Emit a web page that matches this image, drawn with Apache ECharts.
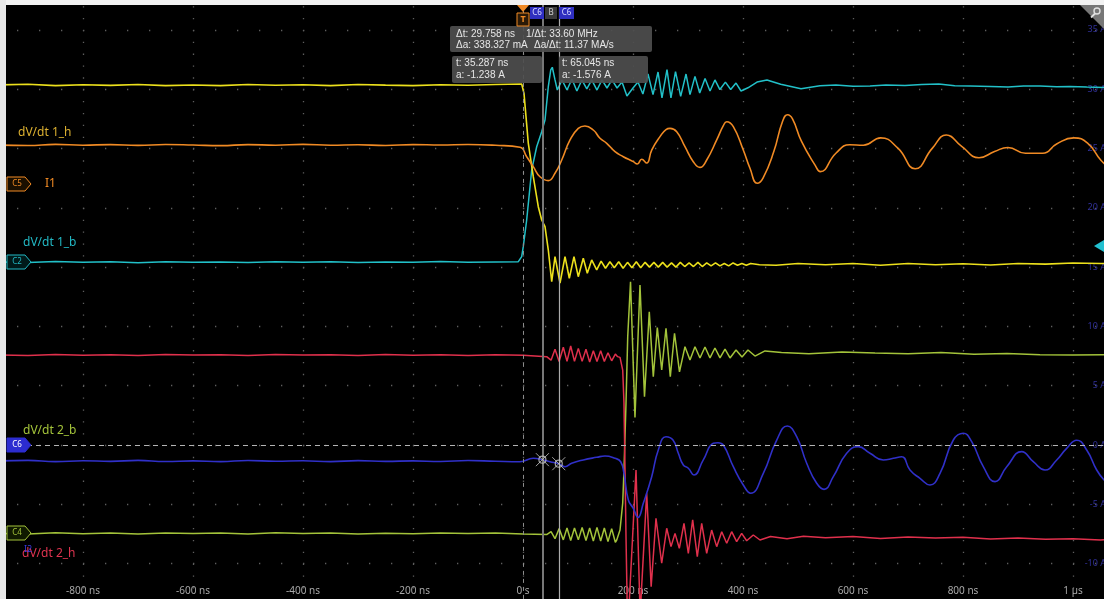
<!DOCTYPE html>
<html><head><meta charset="utf-8">
<script src="https://cdn.jsdelivr.net/npm/echarts/dist/echarts.min.js"></script>
<style>html,body{margin:0;padding:0;background:#000;overflow:hidden}#c{width:1104px;height:599px}</style>
</head><body><div id="c"></div>
<script>
// time in ns, amplitude in display units (A, right axis scale)
const timeTicks = { min: -1000, max: 1200, step: 200 };
const ampTicks = { min: -15, max: 40, step: 5 };

const yellowTrace = [[-960,30.35],[-900,30.42],[-850,30.3],[-800,30.38],[-750,30.32],[-700,30.4],[-650,30.3],[-600,30.36],[-550,30.3],[-500,30.4],[-450,30.33],[-400,30.37],[-350,30.3],[-300,30.4],[-250,30.34],[-200,30.3],[-150,30.38],[-100,30.33],[-50,30.4],[-2.4,30.44],[1.8,29.65],[9.6,25.46],[18.7,22.62],[27.8,20.09],[34,18.97],[40,18.41],[46,16.44],[52.2,13.77],[58.2,15.88],[67.3,13.66],[76.4,15.88],[84.2,14.06],[92.7,15.88],[100.5,14.19],[109.6,15.74],[116.9,14.48],[124.9,15.6],[134,14.76],[142,15.5],[150,14.9],[158,15.45],[166,14.95],[174,15.45],[182,14.9],[190,15.4],[198,14.95],[206,15.45],[214,14.95],[222,15.4],[230,15.0],[238,15.4],[246,15.0],[254,15.4],[262,15.0],[270,15.35],[278,15.0],[286,15.4],[294,15.05],[302,15.35],[310,15.05],[318,15.4],[326,15.05],[334,15.35],[342,15.1],[350,15.35],[358,15.1],[366,15.3],[374,15.1],[382,15.35],[390,15.15],[398,15.3],[406,15.15],[414,15.3],[430,15.2],[460,15.15],[500,15.3],[550,15.2],[600,15.3],[650,15.15],[700,15.3],[750,15.2],[800,15.28],[850,15.18],[900,15.3],[950,15.25],[1000,15.35],[1050,15.3],[1080,15.32]];

const cyanTrace = [[-960,15.43],[-900,15.38],[-850,15.47],[-800,15.4],[-750,15.45],[-700,15.37],[-650,15.46],[-600,15.4],[-550,15.44],[-500,15.38],[-450,15.46],[-400,15.41],[-350,15.45],[-300,15.38],[-250,15.44],[-200,15.4],[-150,15.47],[-100,15.4],[-50,15.44],[-8.5,15.46],[-2.4,15.88],[0.5,16.72],[6.7,18.97],[15.8,23.19],[24.9,25.15],[34,26.42],[40,27.4],[46,30.21],[50.4,31.62],[53.3,31.85],[58.2,30.78],[62.4,29.93],[70.9,30.78],[80,29.93],[89,30.86],[98,29.85],[107,30.78],[116,30.02],[125,30.78],[134.5,29.93],[143.6,30.78],[152.7,30.1],[161.8,30.78],[171,30.1],[180,30.6],[189,29.43],[200,30.1],[209,30.6],[218,29.6],[227.3,31.28],[236.4,29.54],[245.5,31.45],[252.7,29.26],[261.8,31.66],[269,29.26],[277.3,31.49],[286.7,29.39],[296.4,31.28],[303.6,29.54],[312.7,31.08],[321.3,29.68],[331,30.91],[340,29.85],[349,30.78],[358,29.97],[368,30.6],[377.6,29.97],[387.3,30.52],[396.4,29.85],[409,30.12],[425.5,30.6],[443.6,30.78],[468.5,30.41],[505.5,30.03],[540,30.3],[569,30.35],[600,30.25],[631,30.27],[660,30.35],[694.5,30.31],[725,30.4],[756,30.44],[785,30.3],[813,30.27],[850,30.22],[882,30.18],[910,30.28],[940,30.27],[970,30.2],[994.5,30.23],[1025,30.18],[1056,30.14],[1080,30.14]];

const orangeTrace = [[-960,25.3],[-900,25.25],[-850,25.35],[-800,25.28],[-750,25.33],[-700,25.26],[-650,25.34],[-600,25.3],[-550,25.24],[-500,25.33],[-450,25.28],[-400,25.35],[-350,25.27],[-300,25.32],[-250,25.25],[-200,25.33],[-150,25.29],[-100,25.34],[-50,25.27],[-5.5,25.1],[6.7,24.31],[18.7,23.47],[30.9,22.62],[46,22.29],[58.2,22.91],[70.4,24.03],[85.5,25.72],[100.5,26.7],[112.7,26.9],[127.8,26.56],[140,25.86],[152.2,25.44],[167.3,24.73],[182.4,24.31],[200.5,23.89],[207.8,23.69],[215.8,24.09],[224.9,23.78],[234,24.87],[249.1,26],[260,26.6],[267.3,26.7],[279.5,26.42],[294.5,25.15],[309.6,23.89],[321.8,23.41],[334,24.03],[352.2,25.72],[364,26.9],[370.4,27.26],[382.4,26.84],[400.5,24.87],[412.7,23.33],[425.8,22.07],[436.4,22.51],[456,24.74],[472,27.3],[481.1,27.85],[490,27.5],[506.2,25.62],[531.3,23.58],[540.5,23.05],[568.9,24.6],[594,25.32],[618.9,25.27],[650.4,25.9],[681.6,25.03],[713.1,23.29],[744.4,25.03],[769.5,26.14],[797.6,25.18],[829.1,24.22],[857.3,24.74],[881.8,25.09],[913.6,24.6],[945.1,24.6],[970.2,25.38],[1001.5,25.9],[1026.5,25.46],[1050.4,24.03],[1067,23.36]];

const redTrace = [[-960,7.6],[-900,7.55],[-850,7.64],[-800,7.57],[-750,7.62],[-700,7.55],[-650,7.63],[-600,7.58],[-550,7.62],[-500,7.55],[-450,7.64],[-400,7.58],[-350,7.6],[-300,7.54],[-250,7.63],[-200,7.57],[-150,7.61],[-100,7.55],[-50,7.62],[0,7.57],[43,7.45],[51,7.15],[58.2,8.07],[65.7,7.05],[73.3,8.24],[80,7.05],[86.7,8.35],[93.6,7.05],[100.6,8.15],[107.5,7.05],[114.5,8.07],[121.2,7.0],[127.9,7.95],[134.5,7.05],[141.2,7.95],[147.9,7.05],[154.5,7.78],[161.2,7.1],[167.9,7.67],[172,7.45],[176.4,7.39],[181.3,6.32],[183.6,3.54],[185.5,-2.11],[187.3,-7.76],[189.6,-13.9],[192,-14.3],[205.5,-2.11],[213,-14.3],[224.9,-4.07],[233,-11.95],[241.8,-6.18],[252.2,-9.97],[261.3,-7.02],[269.1,-8.57],[276.4,-7.45],[284.2,-8.71],[292.7,-6.6],[300.6,-9.13],[308.5,-6.32],[316.9,-9.42],[324.9,-6.6],[334,-9.13],[343,-7.17],[352.2,-8.57],[361.3,-7.31],[370.4,-8.29],[379.4,-7.31],[388.5,-8.15],[397.6,-7.45],[406.7,-8.07],[418.7,-7.59],[430.9,-8.01],[450,-7.72],[480,-7.9],[510,-7.7],[550,-7.82],[600,-7.72],[650,-7.88],[700,-7.76],[750,-7.85],[800,-7.78],[850,-7.92],[900,-7.85],[950,-7.95],[1000,-7.9],[1050,-8.0],[1080,-7.98]];

const greenTrace = [[-960,-7.45],[-900,-7.5],[-850,-7.4],[-800,-7.48],[-750,-7.42],[-700,-7.5],[-650,-7.41],[-600,-7.47],[-550,-7.43],[-500,-7.5],[-450,-7.4],[-400,-7.46],[-350,-7.42],[-300,-7.5],[-250,-7.44],[-200,-7.48],[-150,-7.41],[-100,-7.47],[-50,-7.43],[0,-7.5],[43,-7.55],[51,-7.3],[58.2,-7.9],[65.7,-7.05],[73.3,-8.0],[80,-7.0],[86.7,-8.05],[93.6,-7.0],[100.6,-8.0],[107.5,-6.95],[114.5,-8.05],[121.2,-7.0],[127.9,-8.1],[134.5,-6.95],[141.2,-8.1],[147.9,-7.0],[154.5,-8.15],[161.2,-7.05],[167.9,-8.2],[170.4,-8.01],[176.4,-7.17],[181.3,-4.89],[183.6,-2.11],[187.3,3.54],[190.4,9.13],[195.5,13.77],[203.6,2.32],[212.7,13.49],[220.9,4.07],[229.6,11.24],[236.9,5.76],[244.2,9.91],[252.2,6.32],[260,9.84],[267.8,5.76],[275.5,9.42],[284.5,6.16],[294.5,8.29],[303.6,7.17],[312.7,8.29],[321.8,7.34],[330.9,8.26],[340,7.34],[349,8.18],[358.2,7.34],[367.3,8.09],[376.4,7.34],[387.3,8.01],[398.2,7.42],[409,8.01],[421.8,7.5],[440,7.93],[470,7.8],[520,7.7],[580,7.85],[640,7.75],[700,7.7],[760,7.8],[820,7.65],[880,7.72],[940,7.6],[1000,7.58],[1060,7.62],[1080,7.6]];

const blueTrace = [[-960,-1.35],[-900,-1.3],[-850,-1.4],[-800,-1.33],[-750,-1.38],[-700,-1.3],[-650,-1.39],[-600,-1.34],[-550,-1.4],[-500,-1.31],[-450,-1.37],[-400,-1.33],[-350,-1.4],[-300,-1.32],[-250,-1.38],[-200,-1.34],[-150,-1.39],[-100,-1.31],[-50,-1.37],[-5.5,-1.41],[18.7,-1.12],[35.287,-1.238],[49.1,-1.41],[65.045,-1.576],[76.4,-1.83],[88.5,-1.54],[109.6,-1.26],[134,-1.04],[149.1,-0.93],[167.3,-1.12],[177.6,-1.41],[183.6,-2.39],[191.5,-4.64],[200.5,-5.34],[209.1,-6.11],[218.7,-4.92],[234,-2.67],[246,-0.42],[260,0.7],[272.7,0.42],[282.4,-0.7],[291.5,-1.69],[300.6,-1.96],[310.9,-2.53],[327.8,-1.26],[346,0.14],[354.5,0.19],[364.2,0],[382.4,-1.83],[400.5,-3.37],[414,-4.07],[436.9,-2.39],[461.3,0.42],[480.5,1.6],[497.6,0.7],[515.8,-1.54],[534,-3.23],[547.3,-3.74],[564.2,-2.67],[588.5,-0.7],[609.6,-0.14],[630.9,-0.7],[655.1,-1.26],[673.3,-1.12],[688.5,-0.99],[703.6,-2.11],[721.8,-2.81],[740,-3.37],[758.2,-2.39],[782.4,0.42],[800.5,0.99],[815.8,0.28],[836.9,-1.83],[858.2,-3.09],[879.5,-1.83],[906.7,-0.56],[927.8,-1.41],[949.1,-2.11],[970.4,-1.26],[988.5,-0.28],[1006.7,0.4],[1024.9,-0.42],[1043.1,-2.11],[1056.4,-2.95],[1076,-3.8]];

const cursorTimes = [35.287, 65.045];
const cursorAmps = [-1.238, -1.576];
const readoutTop = ['Δt: 29.758 ns', '1/Δt: 33.60 MHz', 'Δa: 338.327 mA', 'Δa/Δt: 11.37 MA/s'];
const readoutA = ['t: 35.287 ns', 'a: -1.238 A'];
const readoutB = ['t: 65.045 ns', 'a: -1.576 A'];

const FONT = '"Noto Sans", "DejaVu Sans", sans-serif';
const RFONT = '"Liberation Sans", Arial, sans-serif';
function fmtTime(v){ if (v === 0) return '0 s'; if (v === 1000) return '1 µs'; return v + ' ns'; }
function trace(data, color, width, smooth){
  return { type:'line', data:data, showSymbol:false, smooth:smooth||false, clip:true,
    lineStyle:{color:color, width:width}, silent:true, animation:false };
}
function txt(x,y,t,fill,size,align,weight,family){
  return {type:'text', x:x, y:y, z:60, style:{text:t, fill:fill, font:(weight||'normal')+' '+size+'px '+(family||FONT), align:align||'left', verticalAlign:'middle'}};
}
function tag(y,label,stroke,fill,textColor){
  return [
    {type:'polygon', z:55, shape:{points:[[7,y-7],[25,y-7],[31,y],[25,y+7],[7,y+7]]}, style:{fill:fill, stroke:stroke, lineWidth:1}},
    txt(17,y,label,textColor,8,'center')
  ];
}

const chart = echarts.init(document.getElementById('c'), null, {renderer:'canvas'});
const cursorPts = cursorTimes.map((t,i)=>[t, cursorAmps[i]]);

const blue = trace(blueTrace, '#3030c8', 1.6, 0.5);
blue.markLine = { silent:true, symbol:['none','none'], label:{show:false}, animation:false,
  data:[
    {xAxis:0, lineStyle:{color:'#8c8c8c', width:1, type:[4,4]}},
    {yAxis:0, lineStyle:{color:'#b4b4b4', width:1, type:[5,4]}},
    {xAxis:cursorTimes[0], lineStyle:{color:'#777777', width:2, type:'solid'}},
    {xAxis:cursorTimes[1], lineStyle:{color:'#ababab', width:1.2, type:'solid'}}
  ]};

const graphics = [
  {type:'rect', z:100, shape:{x:0,y:0,width:1104,height:5}, style:{fill:'#f2f2f2'}},
  {type:'rect', z:100, shape:{x:0,y:0,width:6,height:599}, style:{fill:'#e8e8e8'}},
  // readout boxes
  {type:'rect', z:50, shape:{x:450,y:26,width:202,height:26,r:2}, style:{fill:'rgba(78,78,78,0.92)'}},
  {type:'rect', z:50, shape:{x:452,y:56,width:90,height:27,r:2}, style:{fill:'rgba(78,78,78,0.92)'}},
  {type:'rect', z:50, shape:{x:559,y:56,width:89,height:27,r:2}, style:{fill:'rgba(78,78,78,0.92)'}},
  txt(456,34,readoutTop[0],'#e6e6e6',10,'left','normal',RFONT),
  txt(526,34,readoutTop[1],'#e6e6e6',10,'left','normal',RFONT),
  txt(456,45.5,readoutTop[2],'#e6e6e6',10,'left','normal',RFONT),
  txt(534,45.5,readoutTop[3],'#e6e6e6',10,'left','normal',RFONT),
  txt(456,63,readoutA[0],'#e6e6e6',10,'left','normal',RFONT),
  txt(456,75,readoutA[1],'#e6e6e6',10,'left','normal',RFONT),
  txt(562,63,readoutB[0],'#e6e6e6',10,'left','normal',RFONT),
  txt(562,75,readoutB[1],'#e6e6e6',10,'left','normal',RFONT),
  // trigger + cursor flags
  {type:'polygon', z:55, shape:{points:[[517,5],[529,5],[523,12]]}, style:{fill:'#f08a24'}},
  {type:'rect', z:55, shape:{x:517,y:13,width:12,height:13}, style:{fill:'#2a1a08', stroke:'#f08a24', lineWidth:1}},
  txt(523,19.5,'T','#f08a24',9,'center','bold'),
  {type:'rect', z:55, shape:{x:530,y:7,width:14,height:12}, style:{fill:'#2f2fc0'}},
  txt(537,13,'C6','#dcdcff',8,'center'),
  {type:'rect', z:55, shape:{x:545,y:7,width:12,height:12}, style:{fill:'#3a3a3a'}},
  txt(551,13,'B','#cccccc',8,'center'),
  {type:'rect', z:55, shape:{x:559,y:7,width:15,height:12}, style:{fill:'#2f2fc0'}},
  txt(566.5,13,'C6','#dcdcff',8,'center'),
  // channel labels
  txt(18,133,'dV/dt 1_h','#dcb030',12),
  txt(45,184,'I1','#f08a24',12),
  txt(23,243,'dV/dt 1_b','#22b8c4',12),
  txt(23,431,'dV/dt 2_b','#a3c33a',12),
  txt(22,554,'dV/dt 2_h','#e03450',12),
  txt(24,549,'I2','#3a3ae0',9),
  ...tag(184,'C5','#f08a24','#1a0f00','#f08a24'),
  ...tag(262,'C2','#22b8c4','#001a1a','#22b8c4'),
  ...tag(445,'C6','#2c2cd0','#2c2cd0','#ffffff'),
  ...tag(533,'C4','#a3c33a','#101a00','#a3c33a'),
  // right side markers
  {type:'polygon', z:55, shape:{points:[[1094,246],[1104,240],[1104,252]]}, style:{fill:'#22c0d0'}},
  {type:'polygon', z:55, shape:{points:[[1080,5],[1104,5],[1104,29]]}, style:{fill:'#777777'}},
  {type:'circle', z:56, shape:{cx:1097,cy:11,r:3}, style:{fill:'none', stroke:'#e0e0e0', lineWidth:1.4}},
  {type:'line', z:56, shape:{x1:1095,y1:13.5,x2:1091,y2:17.5}, style:{stroke:'#e0e0e0', lineWidth:1.8}}
];

chart.setOption({
  backgroundColor:'#000000',
  animation:false,
  grid:{left:-27, right:-79, top:-29.4, bottom:-23.9, containLabel:false, outerBoundsMode:'none'},
  xAxis:{type:'value', min:timeTicks.min, max:timeTicks.max, interval:timeTicks.step, offset:-23.9,
    axisLine:{show:false}, axisTick:{show:false},
    axisLabel:{inside:true, margin:3, color:'#a8a8a8', fontSize:10, fontFamily:FONT, formatter:fmtTime},
    splitLine:{show:true, lineStyle:{color:'#5e5e5e', width:1.3, type:[1.3,10.56]}}},
  yAxis:{type:'value', position:'right', min:ampTicks.min, max:ampTicks.max, interval:ampTicks.step, offset:-79,
    axisLine:{show:false}, axisTick:{show:false},
    axisLabel:{inside:true, margin:-2, color:'#30309a', fontSize:9, fontFamily:FONT, formatter:v=>v+' A'},
    splitLine:{show:true, lineStyle:{color:'#5e5e5e', width:1.3, type:[1.3,20.7]}}},
  series:[
    trace(greenTrace, '#a3c33a', 1.5),
    trace(redTrace, '#e0304c', 1.5),
    trace(cyanTrace, '#22c0c8', 1.5),
    trace(yellowTrace, '#ece01c', 1.6),
    trace(orangeTrace, '#f08a24', 1.6, 0.5),
    blue,
    {type:'scatter', data:cursorPts, symbol:'circle', symbolSize:7, silent:true, z:10,
      itemStyle:{color:'rgba(0,0,0,0)', borderColor:'#c8c8c8', borderWidth:1.2}},
    {type:'scatter', data:cursorPts, symbol:'path://M0,0L10,10M10,0L0,10', symbolSize:13, silent:true, z:10,
      itemStyle:{color:'rgba(0,0,0,0)', borderColor:'#c8c8c8', borderWidth:1}}
  ],
  graphic:graphics
});
</script>
</body></html>
